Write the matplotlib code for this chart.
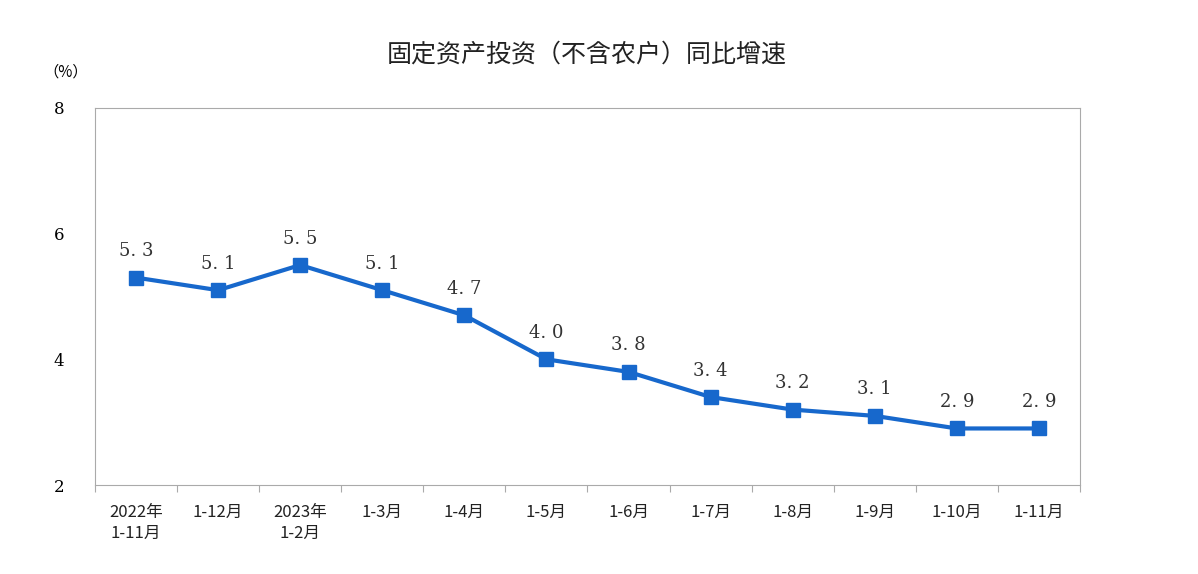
import matplotlib
matplotlib.use("Agg")
import matplotlib.pyplot as plt
from matplotlib import font_manager as fm

categories = ["2022年\n1-11月", "1-12月", "2023年\n1-2月", "1-3月", "1-4月", "1-5月",
              "1-6月", "1-7月", "1-8月", "1-9月", "1-10月", "1-11月"]
values = [5.3, 5.1, 5.5, 5.1, 4.7, 4.0, 3.8, 3.4, 3.2, 3.1, 2.9, 2.9]
yticks = [2, 4, 6, 8]

cjk_files = [f for f in fm.findSystemFonts() if "CJK" in f or "cjk" in f.lower()]
pref = [f for f in cjk_files if "SC" in f or "Regular" in f] or cjk_files
if pref:
    def cjkprop(size, weight="normal"):
        return fm.FontProperties(fname=pref[0], size=size, weight=weight)
else:
    def cjkprop(size, weight="normal"):
        return fm.FontProperties(family="Noto Sans CJK SC", size=size, weight=weight)

fig = plt.figure(figsize=(11.98, 5.74), dpi=100)
ax = fig.add_axes([0.0793, 0.155, 0.8222, 0.657])
color = "#1768cc"
x = list(range(len(values)))
ax.plot(x, values, color=color, lw=3, marker="s", ms=10, mfc=color, mec=color)
for xi, v in zip(x, values):
    ax.text(xi, v + 0.42, f"{v:.1f}".replace(".", ". "), ha="center", va="center",
            fontsize=13, family="DejaVu Serif", color="#333333")
ax.set_xlim(-0.5, len(values) - 0.5)
ax.set_ylim(2, 8)
ax.set_yticks(yticks)
ax.set_yticklabels([str(t) for t in yticks], family="DejaVu Serif", fontsize=12)
ax.set_xticks([i - 0.5 for i in range(len(values) + 1)])
ax.set_xticklabels([])
ax.tick_params(axis="x", length=5, color="#aaaaaa")
ax.tick_params(axis="y", length=0, pad=22)
for i, c in enumerate(categories):
    ax.text(i, 1.7, c, ha="center", va="top", fontproperties=cjkprop(12),
            linespacing=1.3, color="#222222")
for s in ax.spines.values():
    s.set_color("#aaaaaa")
fig.text(0.055, 0.875, "（%）", fontproperties=cjkprop(11), ha="center", va="center")
fig.text(0.49, 0.905, "固定资产投资（不含农户）同比增速", fontproperties=cjkprop(18, "bold"),
         ha="center", va="center", color="#222222")
fig.savefig("out.png", dpi=100)
